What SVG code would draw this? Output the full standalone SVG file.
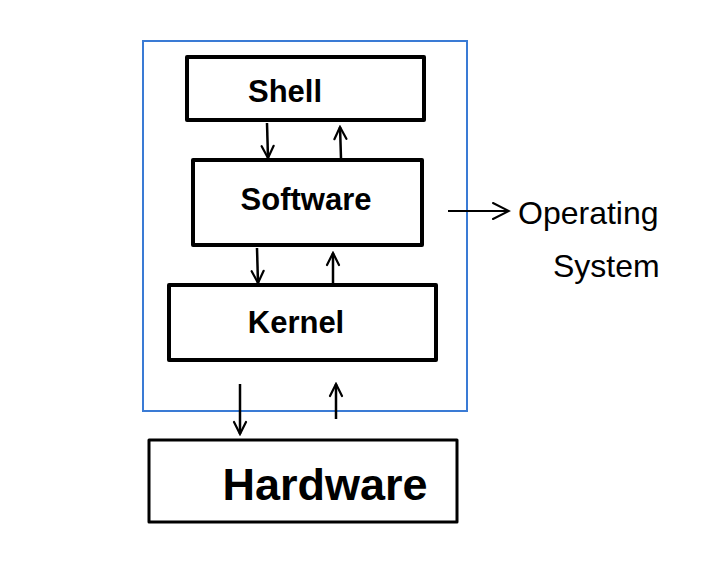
<svg xmlns="http://www.w3.org/2000/svg" width="711" height="562" viewBox="0 0 711 562">
<defs>
<marker id="ah" viewBox="0 0 16 16" refX="14" refY="8" markerWidth="16" markerHeight="16" markerUnits="userSpaceOnUse" orient="auto">
<path d="M2,2 L14,8 L2,14" fill="none" stroke="#000" stroke-width="2.2" stroke-linecap="round"/>
</marker>
<marker id="ah2" viewBox="0 0 20 20" refX="18" refY="10" markerWidth="20" markerHeight="20" markerUnits="userSpaceOnUse" orient="auto">
<path d="M2,2 L18,10 L2,18" fill="none" stroke="#000" stroke-width="2" stroke-linecap="round"/>
</marker>
</defs>
<style>
.box{fill:#fff;stroke:#000;stroke-width:4;stroke-linejoin:round}
.lbl{font-family:"Liberation Sans",Arial,sans-serif;font-weight:bold;fill:#000;text-anchor:middle}
.arr{stroke:#000;stroke-width:2.5;fill:none;marker-end:url(#ah)}
.hand{font-family:"Liberation Sans",Arial,sans-serif;fill:#000}
</style>
<rect width="711" height="562" fill="#fff"/>
<g id="os-boundary">
<rect x="143" y="41" width="324" height="370" fill="none" stroke="#3a7bd5" stroke-width="2"/>
</g>
<g id="shell">
<rect class="box" x="187" y="57" width="237" height="63"/>
<text class="lbl" x="285" y="102" font-size="31">Shell</text>
</g>
<g id="software">
<rect class="box" x="193" y="160" width="229" height="85"/>
<text class="lbl" x="306" y="210" font-size="31">Software</text>
</g>
<g id="kernel">
<rect class="box" x="169" y="285" width="267" height="75"/>
<text class="lbl" x="296" y="333" font-size="31">Kernel</text>
</g>
<g id="hardware">
<rect class="box" x="149" y="440" width="308" height="82" style="stroke-width:3"/>
<text class="lbl" x="325" y="500" font-size="45">Hardware</text>
</g>
<g id="operating-system-label">
<text class="hand" x="518" y="224" font-size="32">Operating</text>
<text class="hand" x="553" y="277" font-size="32">System</text>
</g>
<g id="connectors">
<line class="arr" x1="267" y1="123" x2="268" y2="158"/>
<line class="arr" x1="341" y1="158" x2="340" y2="127"/>
<line class="arr" x1="257" y1="248" x2="258" y2="283"/>
<line class="arr" x1="333" y1="284" x2="333" y2="253"/>
<line class="arr" x1="240" y1="384" x2="240" y2="434"/>
<line class="arr" x1="336" y1="419" x2="336" y2="384"/>
<line x1="448" y1="211" x2="509" y2="211" stroke="#000" stroke-width="2" marker-end="url(#ah2)"/>
</g>
</svg>
